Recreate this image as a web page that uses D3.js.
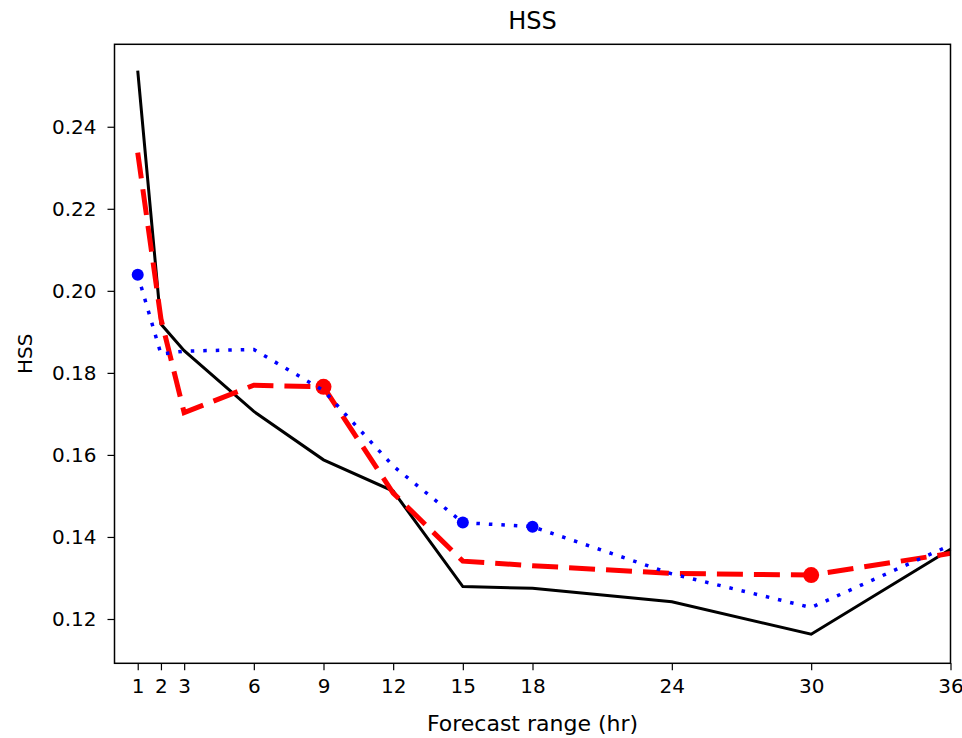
<!DOCTYPE html>
<html>
<head>
<meta charset="utf-8">
<script src="https://cdn.jsdelivr.net/npm/d3@7"></script>
<style>
    body { margin: 0; background: #fff; }
    svg { font-family: "DejaVu Sans", sans-serif; }
</style>
</head>
<body>
<svg id="chart" width="962" height="738"></svg>
<script>
let hours = [1, 2, 3, 6, 9, 12, 15, 18, 24, 30, 36];
let xTicks = [1, 2, 3, 6, 9, 12, 15, 18, 24, 30, 36];
let yTicks = [0.12, 0.14, 0.16, 0.18, 0.20, 0.22, 0.24];

let blackVals = [0.2537, 0.1919, 0.1854, 0.1706, 0.1588, 0.1512, 0.1279, 0.1275, 0.1242, 0.1163, 0.1370];
let redVals = [0.2337, 0.1932, 0.1703, 0.1770, 0.1766, 0.1507, 0.1341, 0.1330, 0.1311, 0.1307, 0.1360];
let blueVals = [0.2039, 0.1846, 0.1853, 0.1857, 0.1757, 0.1573, 0.1435, 0.1425, 0.1310, 0.1228, 0.1380];

let redMarkers = [9, 30];
let blueMarkers = [1, 15, 18];

let plotLeft = 114.5, plotRight = 950.5, plotTop = 44.3, plotBottom = 663.3;

let svg = d3.select('#chart');

let x = d3.scaleLinear().domain([0, 36]).range([plotLeft, plotRight]);
let y = d3.scaleLinear().domain([0.1092, 0.2601]).range([plotBottom, plotTop]);

let line = vals => d3.line()
    .x((d, i) => x(hours[i]))
    .y(d => y(d))(vals);

// axes
let xAxis = svg.append('g')
    .attr('transform', `translate(0,${plotBottom})`)
    .call(d3.axisBottom(x).tickValues(xTicks).tickSize(7).tickPadding(6).tickFormat(d3.format('d')));
let yAxis = svg.append('g')
    .attr('transform', `translate(${plotLeft},0)`)
    .call(d3.axisLeft(y).tickValues(yTicks).tickSize(7).tickPadding(11).tickFormat(d3.format('.2f')));

[xAxis, yAxis].forEach(g => {
    g.select('.domain').remove();
    g.selectAll('line').attr('stroke', '#000').attr('stroke-width', 1.2);
    g.selectAll('text').attr('fill', '#000').style('font-size', '20px')
        .style('font-family', '"DejaVu Sans", sans-serif');
});
xAxis.selectAll('text').attr('dy', '0.85em');

// data lines
let plot = svg.append('g');

plot.append('path')
    .attr('d', line(blackVals))
    .attr('fill', 'none')
    .attr('stroke', '#000')
    .attr('stroke-width', 3);

plot.append('path')
    .attr('d', line(redVals))
    .attr('fill', 'none')
    .attr('stroke', '#ff0000')
    .attr('stroke-width', 5)
    .attr('stroke-dasharray', '26,11');

plot.selectAll('circle.red')
    .data(redMarkers)
    .enter().append('circle')
    .attr('class', 'red')
    .attr('cx', h => x(h))
    .attr('cy', h => y(redVals[hours.indexOf(h)]))
    .attr('r', 8)
    .attr('fill', '#ff0000');

plot.append('path')
    .attr('d', line(blueVals))
    .attr('fill', 'none')
    .attr('stroke', '#0000ff')
    .attr('stroke-width', 3.5)
    .attr('stroke-dasharray', '3.5,9');

plot.selectAll('circle.blue')
    .data(blueMarkers)
    .enter().append('circle')
    .attr('class', 'blue')
    .attr('cx', h => x(h))
    .attr('cy', h => y(blueVals[hours.indexOf(h)]))
    .attr('r', 6)
    .attr('fill', '#0000ff');

// frame
svg.append('rect')
    .attr('x', plotLeft).attr('y', plotTop)
    .attr('width', plotRight - plotLeft).attr('height', plotBottom - plotTop)
    .attr('fill', 'none')
    .attr('stroke', '#000')
    .attr('stroke-width', 1.5);

// labels
svg.append('text')
    .attr('x', (plotLeft + plotRight) / 2).attr('y', 29)
    .attr('text-anchor', 'middle')
    .style('font-size', '24px')
    .text('HSS');

svg.append('text')
    .attr('x', (plotLeft + plotRight) / 2).attr('y', 731)
    .attr('text-anchor', 'middle')
    .style('font-size', '22px')
    .text('Forecast range (hr)');

svg.append('text')
    .attr('transform', `translate(32,${(plotTop + plotBottom) / 2}) rotate(-90)`)
    .attr('text-anchor', 'middle')
    .style('font-size', '20px')
    .text('HSS');
</script>
</body>
</html>
